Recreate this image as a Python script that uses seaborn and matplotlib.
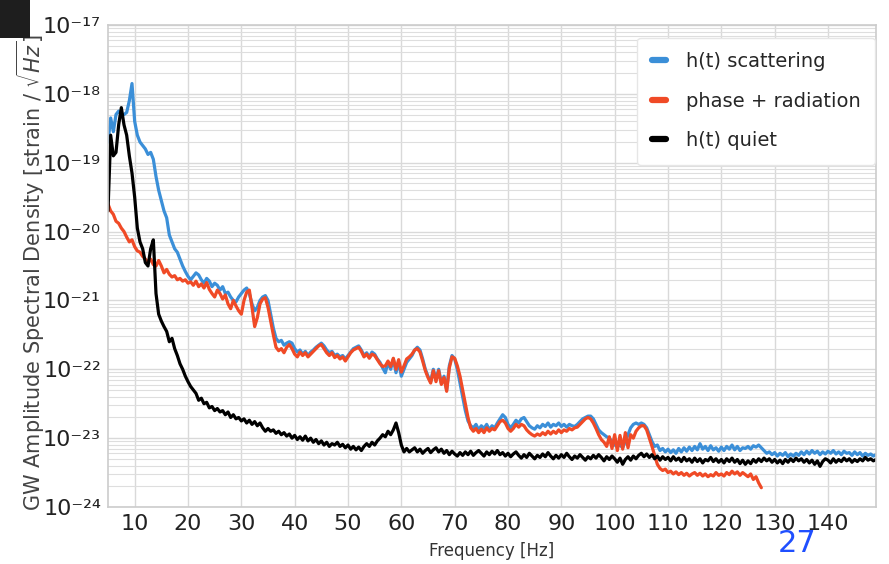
import numpy as np
import pandas as pd
import matplotlib
matplotlib.use("Agg")
import matplotlib.pyplot as plt
import seaborn as sns
from matplotlib.patches import Rectangle

# Frequency grid [Hz] (0.5 Hz bins starting at 5 Hz)
freq_start, freq_step = 5.0, 0.5

# log10 of ASD values
scatter_log = [
    -18.70, -18.35, -18.55, -18.30, -18.25, -18.30, -18.30, -18.27, -18.10, -17.85,
    -18.40, -18.60, -18.70, -18.75, -18.80, -18.88, -18.85, -18.95, -19.20, -19.40,
    -19.55, -19.70, -19.80, -20.05, -20.15, -20.25, -20.30, -20.40, -20.50, -20.58,
    -20.65, -20.70, -20.65, -20.60, -20.63, -20.70, -20.75, -20.68, -20.72, -20.80,
    -20.75, -20.78, -20.85, -20.80, -20.90, -20.88, -20.95, -21.00, -21.02, -20.95,
    -20.90, -20.85, -20.82, -20.90, -21.05, -21.15, -21.10, -21.00, -20.95, -20.93,
    -21.00, -21.20, -21.40, -21.55, -21.60, -21.58, -21.65, -21.62, -21.60, -21.62,
    -21.70, -21.75, -21.72, -21.78, -21.74, -21.80, -21.75, -21.72, -21.68, -21.65,
    -21.62, -21.66, -21.72, -21.76, -21.74, -21.80, -21.78, -21.82, -21.80, -21.85,
    -21.80, -21.75, -21.70, -21.68, -21.66, -21.72, -21.80, -21.76, -21.82, -21.75,
    -21.78, -21.85, -21.90, -21.98, -22.05, -21.90, -22.00, -21.85, -22.05, -21.90,
    -22.10, -22.00, -21.90, -21.85, -21.80, -21.72, -21.68, -21.72, -21.85, -22.00,
    -22.10, -22.18, -22.00, -22.15, -22.00, -22.20, -22.10, -22.30, -21.95, -21.80,
    -21.85, -22.00, -22.20, -22.40, -22.60, -22.75, -22.82, -22.85, -22.80, -22.88,
    -22.82, -22.86, -22.80, -22.88, -22.82, -22.85, -22.78, -22.72, -22.66, -22.70,
    -22.80, -22.85, -22.80, -22.74, -22.78, -22.72, -22.70, -22.76, -22.82, -22.85,
    -22.87, -22.82, -22.85, -22.80, -22.83, -22.78, -22.84, -22.80, -22.82, -22.78,
    -22.83, -22.80, -22.84, -22.80, -22.82, -22.83, -22.80, -22.76, -22.72, -22.70,
    -22.68, -22.68, -22.72, -22.80, -22.88, -22.92, -22.95, -22.98, -23.00, -23.05,
    -23.10, -23.12, -23.10, -23.14, -23.05, -22.95, -22.85, -22.80, -22.78, -22.80,
    -22.78, -22.80, -22.85, -22.95, -23.05, -23.12, -23.10, -23.18, -23.15, -23.20,
    -23.16, -23.21, -23.17, -23.22, -23.15, -23.20, -23.14, -23.19, -23.13, -23.18,
    -23.12, -23.17, -23.08, -23.16, -23.12, -23.18, -23.11, -23.17, -23.14, -23.19,
    -23.13, -23.18, -23.12, -23.16, -23.10, -23.17, -23.12, -23.18, -23.14, -23.15,
    -23.12, -23.16, -23.11, -23.13, -23.10, -23.14, -23.18, -23.22, -23.20, -23.24,
    -23.21, -23.26, -23.22, -23.25, -23.21, -23.27, -23.23, -23.26, -23.22, -23.25,
    -23.20, -23.24, -23.19, -23.23, -23.18, -23.22, -23.19, -23.24, -23.20, -23.23,
    -23.19, -23.22, -23.18, -23.23, -23.20, -23.24, -23.19, -23.22, -23.21, -23.25,
    -23.20, -23.24, -23.21, -23.26, -23.22, -23.25, -23.23, -23.26, -23.24,
]

radiation_log = [
    -19.60, -19.70, -19.75, -19.85, -19.88, -19.95, -20.00, -20.08, -20.15, -20.12,
    -20.22, -20.28, -20.30, -20.36, -20.40, -20.45, -20.40, -20.48, -20.50, -20.42,
    -20.50, -20.60, -20.55, -20.62, -20.66, -20.64, -20.70, -20.68, -20.72, -20.70,
    -20.75, -20.73, -20.78, -20.72, -20.80, -20.76, -20.82, -20.74, -20.84, -20.90,
    -20.95, -20.85, -20.90, -20.98, -20.92, -21.05, -21.12, -21.00, -21.08, -21.15,
    -21.20, -21.00, -20.88, -20.85, -21.10, -21.38, -21.25, -21.05, -20.98, -20.96,
    -21.10, -21.30, -21.50, -21.68, -21.73, -21.70, -21.76, -21.68, -21.64, -21.70,
    -21.78, -21.82, -21.75, -21.80, -21.76, -21.82, -21.78, -21.74, -21.70, -21.66,
    -21.64, -21.70, -21.76, -21.80, -21.76, -21.83, -21.80, -21.85, -21.82, -21.88,
    -21.82, -21.76, -21.72, -21.70, -21.68, -21.74, -21.82, -21.78, -21.84, -21.78,
    -21.80, -21.86, -21.92, -21.96, -21.95, -21.88, -21.96, -21.84, -22.00, -21.86,
    -22.04, -21.95, -21.85, -21.82, -21.78, -21.72, -21.70, -21.75, -21.88, -22.02,
    -22.12, -22.20, -22.02, -22.18, -22.02, -22.22, -22.12, -22.32, -21.98, -21.82,
    -21.84, -21.95, -22.10, -22.30, -22.50, -22.70, -22.85, -22.90, -22.86, -22.92,
    -22.87, -22.92, -22.85, -22.90, -22.86, -22.88, -22.82, -22.76, -22.74, -22.78,
    -22.86, -22.90, -22.86, -22.80, -22.84, -22.80, -22.82, -22.88, -22.92, -22.95,
    -22.97, -22.94, -22.96, -22.92, -22.95, -22.90, -22.94, -22.90, -22.93, -22.88,
    -22.92, -22.88, -22.90, -22.86, -22.88, -22.85, -22.84, -22.80, -22.76, -22.72,
    -22.70, -22.72, -22.78, -22.86, -22.95, -23.02, -23.06, -23.12, -22.98, -23.15,
    -22.95, -23.18, -22.96, -23.16, -22.92, -23.14, -22.95, -23.00, -22.90, -22.85,
    -22.82, -22.82, -22.88, -23.00, -23.12, -23.25, -23.38, -23.44, -23.47, -23.45,
    -23.50, -23.48, -23.52, -23.49, -23.53, -23.50, -23.54, -23.51, -23.55, -23.52,
    -23.50, -23.54, -23.51, -23.55, -23.52, -23.56, -23.53, -23.55, -23.50, -23.54,
    -23.52, -23.55, -23.50, -23.53, -23.48, -23.52, -23.49, -23.54, -23.50, -23.53,
    -23.56, -23.52, -23.60, -23.56, -23.65, -23.72,
]

quiet_log = [
    -19.70, -18.60, -18.90, -18.85, -18.45, -18.20, -18.45, -18.60, -18.90, -19.15,
    -19.50, -19.95, -20.15, -20.25, -20.45, -20.50, -20.25, -20.12, -20.90, -21.20,
    -21.30, -21.38, -21.45, -21.60, -21.55, -21.70, -21.80, -21.92, -22.00, -22.10,
    -22.18, -22.25, -22.30, -22.35, -22.45, -22.42, -22.50, -22.48, -22.56, -22.54,
    -22.60, -22.57, -22.62, -22.60, -22.66, -22.62, -22.70, -22.66, -22.72, -22.70,
    -22.75, -22.72, -22.78, -22.74, -22.80, -22.76, -22.82, -22.78, -22.85, -22.90,
    -22.86, -22.90, -22.88, -22.93, -22.90, -22.95, -22.92, -22.97, -22.94, -23.00,
    -22.96, -23.02, -22.98, -23.03, -22.97, -23.04, -23.00, -23.06, -23.02, -23.08,
    -23.04, -23.10, -23.06, -23.12, -23.08, -23.10, -23.06, -23.12, -23.09, -23.14,
    -23.10, -23.16, -23.12, -23.17, -23.13, -23.18, -23.12, -23.08, -23.12, -23.06,
    -23.10, -23.04, -23.00, -22.95, -22.98, -22.90, -22.95, -22.88, -22.78, -22.92,
    -23.10, -23.20, -23.15, -23.20, -23.17, -23.14, -23.20, -23.16, -23.22, -23.18,
    -23.15, -23.21, -23.17, -23.14, -23.20, -23.16, -23.22, -23.18, -23.24, -23.19,
    -23.23, -23.26, -23.21, -23.25, -23.20, -23.24, -23.19, -23.25, -23.21, -23.18,
    -23.22, -23.26, -23.20, -23.24, -23.19, -23.23, -23.18, -23.24, -23.21, -23.26,
    -23.22, -23.27, -23.23, -23.20, -23.25, -23.29, -23.24, -23.28, -23.22, -23.26,
    -23.30, -23.25, -23.28, -23.23, -23.27, -23.21, -23.26, -23.30, -23.25, -23.29,
    -23.24, -23.28, -23.22, -23.27, -23.31, -23.26, -23.29, -23.24, -23.28, -23.32,
    -23.27, -23.30, -23.25, -23.29, -23.24, -23.28, -23.33, -23.27, -23.31, -23.26,
    -23.30, -23.35, -23.29, -23.38, -23.31, -23.27, -23.32, -23.26, -23.30, -23.25,
    -23.22, -23.27, -23.23, -23.28, -23.24, -23.30, -23.26, -23.32, -23.27, -23.31,
    -23.28, -23.33, -23.27, -23.32, -23.29, -23.34, -23.28, -23.33, -23.30, -23.35,
    -23.29, -23.34, -23.30, -23.36, -23.31, -23.33, -23.28, -23.34, -23.30, -23.35,
    -23.31, -23.36, -23.30, -23.34, -23.29, -23.35, -23.31, -23.37, -23.32, -23.38,
    -23.33, -23.37, -23.31, -23.35, -23.30, -23.34, -23.29, -23.33, -23.30, -23.35,
    -23.31, -23.36, -23.32, -23.37, -23.31, -23.35, -23.30, -23.34, -23.29, -23.33,
    -23.30, -23.35, -23.31, -23.36, -23.32, -23.38, -23.33, -23.41, -23.34, -23.30,
    -23.32, -23.36, -23.30, -23.35, -23.31, -23.34, -23.29, -23.33, -23.30, -23.35,
    -23.31, -23.34, -23.30, -23.33, -23.28, -23.32, -23.30, -23.33, -23.31,
]

series_names = ["h(t) scattering", "phase + radiation", "h(t) quiet"]
series_colors = ["#3b8fd8", "#f04a26", "#000000"]
x_ticks = [10, 20, 30, 40, 50, 60, 70, 80, 90, 100, 110, 120, 130, 140]
y_tick_exps = [-24, -23, -22, -21, -20, -19, -18, -17]
y_tick_labels = ["10⁻²⁴", "10⁻²³", "10⁻²²", "10⁻²¹", "10⁻²⁰", "10⁻¹⁹", "10⁻¹⁸", "10⁻¹⁷"]

frames = []
for name, vals in zip(series_names, [scatter_log, radiation_log, quiet_log]):
    f = freq_start + freq_step * np.arange(len(vals))
    frames.append(pd.DataFrame({"Frequency": f, "ASD": 10.0 ** np.array(vals), "series": name}))
df = pd.concat(frames, ignore_index=True)

sns.set_style("whitegrid")
plt.rcParams["font.family"] = ["DejaVu Sans"]

fig = plt.figure(figsize=(8.89, 5.64), dpi=100)
ax = fig.add_axes([108 / 889, 1 - 507 / 564, (876 - 108) / 889, (507 - 25) / 564])

sns.lineplot(data=df, x="Frequency", y="ASD", hue="series", hue_order=series_names,
             palette=series_colors, estimator=None, sort=False, linewidth=2.3, ax=ax)

ax.set_yscale("log")
ax.set_ylim(1e-24, 1e-17)
ax.set_xlim(5, 149)
ax.set_xticks(x_ticks)
ax.set_xticklabels([str(t) for t in x_ticks])
ax.set_yticks([10.0 ** e for e in y_tick_exps])
ax.set_yticklabels(y_tick_labels)
ax.yaxis.set_minor_locator(matplotlib.ticker.LogLocator(base=10, subs=np.arange(2, 10), numticks=12))
ax.yaxis.set_minor_formatter(matplotlib.ticker.NullFormatter())

ax.grid(True, which="major", color="#d9d9d9", linewidth=1.0)
ax.grid(True, which="minor", axis="y", color="#dedede", linewidth=0.8)
ax.tick_params(axis="both", which="major", labelsize=16, colors="#222222", length=0, pad=5)
ax.tick_params(axis="y", which="minor", length=0)
for s in ax.spines.values():
    s.set_color("#cccccc")
    s.set_linewidth(1.2)

ax.set_xlabel("Frequency [Hz]", fontsize=12, color="#333333", labelpad=6)
ax.set_ylabel(r"GW Amplitude Spectral Density [strain / $\sqrt{Hz}$]", fontsize=15.0,
              color="#444444")
ax.yaxis.set_label_coords(-0.079, 0.485)

leg = ax.legend(loc="upper right", fontsize=14, handlelength=0.75, handletextpad=1.0,
                frameon=True, facecolor="white", edgecolor="#e6e6e6", framealpha=1.0,
                borderpad=0.75, labelspacing=1.05, borderaxespad=0.0,
                bbox_to_anchor=(0.999, 0.974))
for line in leg.get_lines():
    line.set_linewidth(4.5)

fig.text(797 / 889, 1 - 544 / 564, "27", color="#1f4fff", fontsize=22,
         ha="center", va="center")
fig.add_artist(Rectangle((0, 1 - 38 / 564), 30 / 889, 38 / 564, transform=fig.transFigure,
                         facecolor="#1e1e1e", edgecolor="none"))

fig.savefig("out.png", dpi=100)
